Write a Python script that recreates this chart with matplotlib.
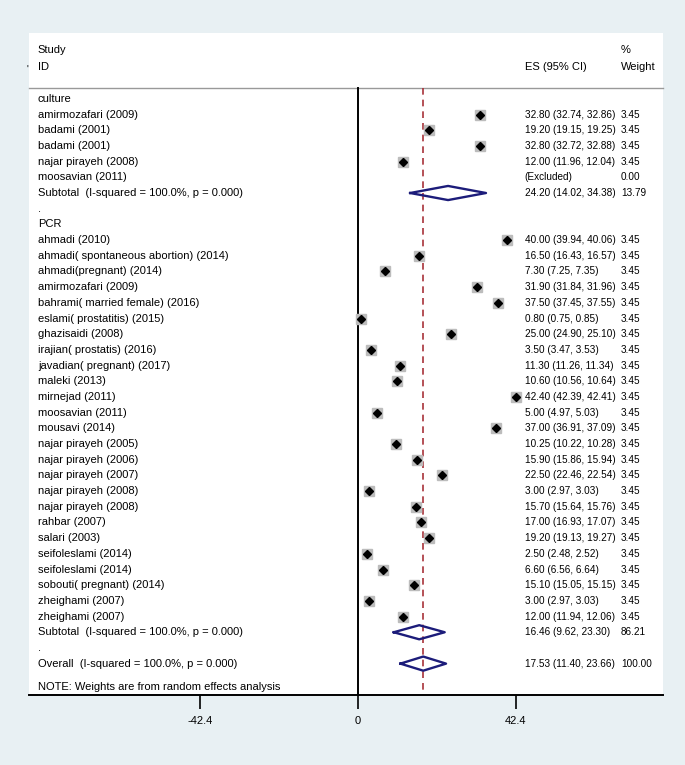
import matplotlib
matplotlib.use('Agg')
import matplotlib.pyplot as plt

plt.rcParams['font.family'] = ['Liberation Sans', 'DejaVu Sans']

# culture group
culture_names = ['amirmozafari (2009)', 'badami (2001)', 'badami (2001)',
                 'najar pirayeh (2008)', 'moosavian (2011)']
culture_es = [32.80, 19.20, 32.80, 12.00, None]
culture_lo = [32.74, 19.15, 32.72, 11.96, None]
culture_hi = [32.86, 19.25, 32.88, 12.04, None]
culture_wt = [3.45, 3.45, 3.45, 3.45, 0.00]
culture_sub = (24.20, 14.02, 34.38, 13.79)

# PCR group
pcr_names = ['ahmadi (2010)', 'ahmadi( spontaneous abortion) (2014)', 'ahmadi(pregnant) (2014)',
             'amirmozafari (2009)', 'bahrami( married female) (2016)', 'eslami( prostatitis) (2015)',
             'ghazisaidi (2008)', 'irajian( prostatis) (2016)', 'javadian( pregnant) (2017)',
             'maleki (2013)', 'mirnejad (2011)', 'moosavian (2011)', 'mousavi (2014)',
             'najar pirayeh (2005)', 'najar pirayeh (2006)', 'najar pirayeh (2007)',
             'najar pirayeh (2008)', 'najar pirayeh (2008)', 'rahbar (2007)', 'salari (2003)',
             'seifoleslami (2014)', 'seifoleslami (2014)', 'sobouti( pregnant) (2014)',
             'zheighami (2007)', 'zheighami (2007)']
pcr_es = [40.00, 16.50, 7.30, 31.90, 37.50, 0.80, 25.00, 3.50, 11.30, 10.60, 42.40, 5.00, 37.00,
          10.25, 15.90, 22.50, 3.00, 15.70, 17.00, 19.20, 2.50, 6.60, 15.10, 3.00, 12.00]
pcr_lo = [39.94, 16.43, 7.25, 31.84, 37.45, 0.75, 24.90, 3.47, 11.26, 10.56, 42.39, 4.97, 36.91,
          10.22, 15.86, 22.46, 2.97, 15.64, 16.93, 19.13, 2.48, 6.56, 15.05, 2.97, 11.94]
pcr_hi = [40.06, 16.57, 7.35, 31.96, 37.55, 0.85, 25.10, 3.53, 11.34, 10.64, 42.41, 5.03, 37.09,
          10.28, 15.94, 22.54, 3.03, 15.76, 17.07, 19.27, 2.52, 6.64, 15.15, 3.03, 12.06]
pcr_wt = [3.45] * 25
pcr_sub = (16.46, 9.62, 23.30, 86.21)

overall = (17.53, 11.40, 23.66, 100.00)
xticks = [-42.4, 0, 42.4]
xticklabels = ['-42.4', '0', '42.4']

subtitle = 'Subtotal  (I-squared = 100.0%, p = 0.000)'
overtitle = 'Overall  (I-squared = 100.0%, p = 0.000)'

# build rows: (label, es, lo, hi, wt, kind)
rows = [('culture', None, None, None, None, 'head')]
for i in range(len(culture_names)):
    rows.append((culture_names[i], culture_es[i], culture_lo[i], culture_hi[i], culture_wt[i], 'study'))
rows.append((subtitle,) + culture_sub + ('sub',))
rows.append(('.', None, None, None, None, 'head'))
rows.append(('PCR', None, None, None, None, 'head'))
for i in range(len(pcr_names)):
    rows.append((pcr_names[i], pcr_es[i], pcr_lo[i], pcr_hi[i], pcr_wt[i], 'study'))
rows.append((subtitle,) + pcr_sub + ('sub',))
rows.append(('.', None, None, None, None, 'head'))
rows.append((overtitle,) + overall + ('sub',))

BG = '#e8f0f3'
NAVY = '#1c1c7a'
RED = '#a8323a'
FS = 8.0     # labels
FN = 7.2     # number columns

fig = plt.figure(figsize=(6.85, 7.65), dpi=100, facecolor=BG)
ax = fig.add_axes([29/685, 1 - 695/765, (663-29)/685, (695-33)/765])
ax.set_facecolor('white')

XL, XR = -88.3, 81.9
X_NAME, X_ES, X_WT = -85.9, 44.8, 70.6
ax.set_xlim(XL, XR)
ax.set_ylim(38.0, -4.2)

HDR = -0.7
ax.plot([XL, XR], [HDR, HDR], color='#999999', lw=1.0, clip_on=False)
ax.plot([0, 0], [HDR, 38.0], color='black', lw=1.4)
ax.plot([overall[0], overall[0]], [HDR, 38.0], color=RED, lw=1.2, dashes=(4, 3))

ax.text(X_NAME, -3.1, 'Study', fontsize=FS, va='center')
ax.text(X_NAME, -2.05, 'ID', fontsize=FS, va='center')
ax.text(X_ES, -2.05, 'ES (95% CI)', fontsize=FS, va='center')
ax.text(X_WT, -3.1, '%', fontsize=FS, va='center')
ax.text(X_WT, -2.05, 'Weight', fontsize=FS, va='center')
ax.text(XL - 0.3, -1.85, "'", fontsize=7, va='center', ha='right', clip_on=False)

for y, (label, es, lo, hi, wt, kind) in enumerate(rows):
    ax.text(X_NAME, y, label, fontsize=FS, va='center')
    if kind == 'study':
        if es is None:
            ax.text(X_ES, y, '(Excluded)', fontsize=FN, va='center')
        else:
            ax.plot([lo, hi], [y, y], color='black', lw=0.8)
            ax.plot(es, y, marker='s', ms=6.6, color='#bcbcbc', mec='#bcbcbc')
            ax.plot(es, y, marker='D', ms=3.6, color='black')
            ax.text(X_ES, y, f'{es:.2f} ({lo:.2f}, {hi:.2f})', fontsize=FN, va='center')
        ax.text(X_WT, y, f'{wt:.2f}', fontsize=FN, va='center')
    elif kind == 'sub':
        h = 0.45
        ax.plot([lo, es, hi, es, lo], [y, y - h, y, y + h, y], color=NAVY, lw=1.7)
        ax.text(X_ES, y, f'{es:.2f} ({lo:.2f}, {hi:.2f})', fontsize=FN, va='center')
        ax.text(X_WT, y, f'{wt:.2f}', fontsize=FN, va='center')

ax.text(X_NAME, 37.5, 'NOTE: Weights are from random effects analysis', fontsize=FS, va='center')

for s in ['top', 'left', 'right']:
    ax.spines[s].set_visible(False)
ax.spines['bottom'].set_linewidth(1.4)
ax.set_yticks([])
ax.set_xticks(xticks)
ax.set_xticklabels(xticklabels, fontsize=FS)
ax.tick_params(axis='x', length=10, width=1.2, pad=5)

fig.savefig('out.png', dpi=100, facecolor=BG)
